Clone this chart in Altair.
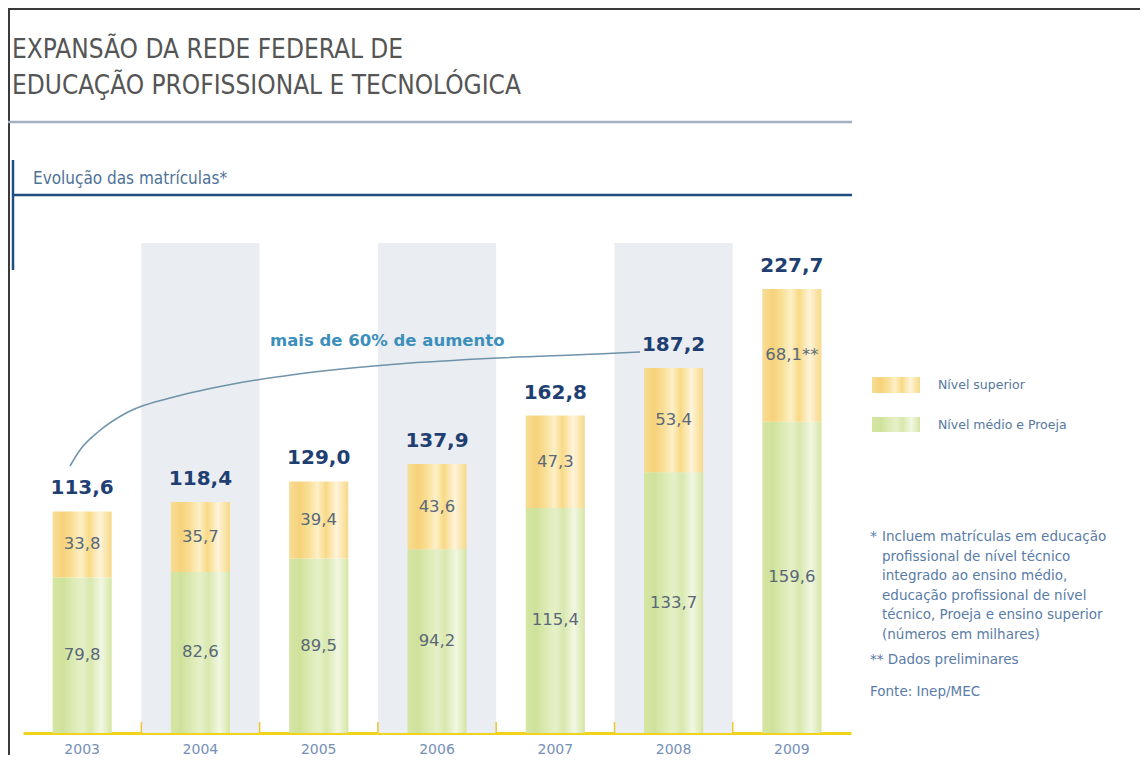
import altair as alt
import pandas as pd

# ---------------- data ----------------
years = ["2003", "2004", "2005", "2006", "2007", "2008", "2009"]
medio = [79.8, 82.6, 89.5, 94.2, 115.4, 133.7, 159.6]        # Nível médio e Proeja
superior = [33.8, 35.7, 39.4, 43.6, 47.3, 53.4, 68.1]        # Nível superior
totals = [113.6, 118.4, 129.0, 137.9, 162.8, 187.2, 227.7]
sup_marks = ["", "", "", "", "", "", "**"]
shaded_years = ["2004", "2006", "2008"]

title_lines = ["EXPANSÃO DA REDE FEDERAL DE", "EDUCAÇÃO PROFISSIONAL E TECNOLÓGICA"]
subtitle = "Evolução das matrículas*"
annotation = "mais de 60% de aumento"
legend_labels = ["Nível superior", "Nível médio e Proeja"]
note_lines = [
    "Incluem matrículas em educação",
    "profissional  de  nível  técnico",
    "integrado  ao  ensino  médio,",
    "educação  profissional  de  nível",
    "técnico, Proeja e ensino superior",
    "(números em milhares)",
]
note2 = "** Dados preliminares"
source = "Fonte: Inep/MEC"


def br(v):
    return f"{v:.1f}".replace(".", ",")


df = pd.DataFrame({
    "year": years,
    "medio": medio,
    "superior": superior,
    "total": totals,
    "lbl_medio": [br(v) for v in medio],
    "lbl_sup": [br(v) + m for v, m in zip(superior, sup_marks)],
    "lbl_total": [br(v) for v in totals],
})
df_shade = pd.DataFrame({"year": shaded_years})
one = pd.DataFrame({"k": [0]})

# ---------------- style ----------------
W, H = 1132, 725
NUM_FONT = "DejaVu Sans"
NARROW = "Liberation Sans Narrow, DejaVu Sans Condensed, Arial Narrow, sans-serif"
NOTE_COLOR = "#5a7ca8"

x_scale = alt.Scale(domain=years, range=[15, 843], paddingInner=0.5, paddingOuter=0.25)
x_axis = alt.Axis(
    title=None, ticks=False, grid=False, labelAngle=0,
    domainColor="#f2d31b", domainWidth=3,
    labelColor="#7590b6", labelFont=NUM_FONT, labelFontSize=14, labelPadding=9,
)
X = alt.X("year:O", scale=x_scale, axis=x_axis)
y_scale = alt.Scale(domain=[0, H / 1.95], nice=False, zero=True)


def Y(field):
    return alt.Y(field, type="quantitative", scale=y_scale, axis=None)


yellow = alt.Gradient(
    gradient="linear", x1=0, x2=1, y1=0, y2=0,
    stops=[
        alt.GradientStop(offset=0.0, color="#f7dd95"),
        alt.GradientStop(offset=0.18, color="#f6d27a"),
        alt.GradientStop(offset=0.33, color="#f9df95"),
        alt.GradientStop(offset=0.48, color="#fdf0c8"),
        alt.GradientStop(offset=0.62, color="#f8d985"),
        alt.GradientStop(offset=0.8, color="#fff4da"),
        alt.GradientStop(offset=0.93, color="#f9e2a2"),
        alt.GradientStop(offset=1.0, color="#f6d98c"),
    ],
)
green = alt.Gradient(
    gradient="linear", x1=0, x2=1, y1=0, y2=0,
    stops=[
        alt.GradientStop(offset=0.0, color="#d5e6a4"),
        alt.GradientStop(offset=0.18, color="#cfe29b"),
        alt.GradientStop(offset=0.35, color="#dcebb4"),
        alt.GradientStop(offset=0.5, color="#e6f0c8"),
        alt.GradientStop(offset=0.64, color="#d8e8ae"),
        alt.GradientStop(offset=0.82, color="#f1f7e2"),
        alt.GradientStop(offset=0.94, color="#dfecbb"),
        alt.GradientStop(offset=1.0, color="#d3e4a2"),
    ],
)

base = alt.Chart(df)

# ---------------- layers ----------------
shade = alt.Chart(df_shade).mark_bar(
    width=alt.RelativeBandSize(2.0), color="#eaedf1"
).encode(x=X, y=alt.value(235), y2=alt.value(H))

bars_medio = base.mark_bar(fill=green).encode(x=X, y=Y("medio"), y2=alt.datum(0))
bars_sup = base.mark_bar(fill=yellow).encode(x=X, y=Y("medio"), y2=alt.Y2("total"))

ticks = base.transform_filter(alt.datum.year != years[0]).mark_rule(
    color="#efc530", strokeWidth=1.5, xOffset=-59.1
).encode(x=X, y=alt.value(H - 11), y2=alt.value(H))

lbl_medio = base.transform_calculate(mid="datum.medio / 2").mark_text(
    font=NUM_FONT, fontSize=16.5, color="#5a6877", baseline="middle"
).encode(x=X, y=Y("mid"), text="lbl_medio:N")

lbl_sup = base.transform_calculate(mid="(datum.medio + datum.total) / 2").mark_text(
    font=NUM_FONT, fontSize=16.5, color="#5a6877", baseline="middle"
).encode(x=X, y=Y("mid"), text="lbl_sup:N")

lbl_total = base.mark_text(
    font=NUM_FONT, fontSize=20, fontWeight="bold", color="#1f3f72",
    baseline="alphabetic", dy=-17
).encode(x=X, y=Y("total"), text="lbl_total:N")

# annotation curve (pixel path of the drawn arrow line)
curve_px = [62, 72, 90, 120, 170, 220, 290, 390, 490, 590, 632]
curve_py = [458, 442, 424, 404, 388, 377, 366, 356, 350, 346, 344]
curve = alt.Chart(pd.DataFrame({"px": curve_px, "py": curve_py})).mark_line(
    color="#6f93aa", strokeWidth=1.5, interpolate="monotone"
).encode(
    x=alt.X("px:Q", scale=None, axis=None),
    y=alt.Y("py:Q", scale=None, axis=None),
)
ann = alt.Chart(one).mark_text(
    text=annotation, font=NUM_FONT, fontSize=16.5, fontWeight="bold",
    color="#3c8fbb", align="left", baseline="alphabetic"
).encode(x=alt.value(262), y=alt.value(338))

# frame, title, rules
frame_top = alt.Chart(one).mark_rule(color="#3a3a3a", strokeWidth=2).encode(
    x=alt.value(0), x2=alt.value(W), y=alt.value(1))
frame_left = alt.Chart(one).mark_rule(color="#3a3a3a", strokeWidth=2).encode(
    x=alt.value(1), y=alt.value(0), y2=alt.value(H + 40))

title1 = alt.Chart(one).mark_text(
    text=title_lines[0], font=NARROW, fontSize=26, color="#555555",
    align="left", baseline="alphabetic"
).encode(x=alt.value(4), y=alt.value(50))
title2 = alt.Chart(one).mark_text(
    text=title_lines[1], font=NARROW, fontSize=26, color="#555555",
    align="left", baseline="alphabetic"
).encode(x=alt.value(4), y=alt.value(86))
title_rule = alt.Chart(one).mark_rule(color="#a3b1bf", strokeWidth=2.5).encode(
    x=alt.value(0), x2=alt.value(844), y=alt.value(114))

sub = alt.Chart(one).mark_text(
    text=subtitle, font=NARROW, fontSize=17, color="#4f7297",
    align="left", baseline="alphabetic"
).encode(x=alt.value(25), y=alt.value(176))
blue_h = alt.Chart(one).mark_rule(color="#1f4f80", strokeWidth=2.5).encode(
    x=alt.value(5), x2=alt.value(844), y=alt.value(187))
blue_v = alt.Chart(one).mark_rule(color="#1f4f80", strokeWidth=2.5).encode(
    x=alt.value(5), y=alt.value(152), y2=alt.value(262))

# legend
leg_sw1 = alt.Chart(one).mark_rect(fill=yellow).encode(
    x=alt.value(864), x2=alt.value(912), y=alt.value(369), y2=alt.value(385))
leg_sw2 = alt.Chart(one).mark_rect(fill=green).encode(
    x=alt.value(864), x2=alt.value(912), y=alt.value(409), y2=alt.value(424))
leg_t1 = alt.Chart(one).mark_text(
    text=legend_labels[0], font=NUM_FONT, fontSize=12.5, color="#5577a0",
    align="left", baseline="middle"
).encode(x=alt.value(930), y=alt.value(377))
leg_t2 = alt.Chart(one).mark_text(
    text=legend_labels[1], font=NUM_FONT, fontSize=12.5, color="#5577a0",
    align="left", baseline="middle"
).encode(x=alt.value(930), y=alt.value(417))

# footnotes
star = alt.Chart(one).mark_text(
    text="*", font=NUM_FONT, fontSize=14, color=NOTE_COLOR, align="left", baseline="top"
).encode(x=alt.value(862), y=alt.value(522))
notes = alt.Chart(one).mark_text(
    text=note_lines, font=NUM_FONT, fontSize=13.5, lineHeight=19.5, color=NOTE_COLOR,
    align="left", baseline="top"
).encode(x=alt.value(874), y=alt.value(522))
n2 = alt.Chart(one).mark_text(
    text=note2, font=NUM_FONT, fontSize=13.5, color=NOTE_COLOR, align="left", baseline="middle"
).encode(x=alt.value(862), y=alt.value(652))
src = alt.Chart(one).mark_text(
    text=source, font=NUM_FONT, fontSize=13.5, color=NOTE_COLOR, align="left", baseline="middle"
).encode(x=alt.value(862), y=alt.value(684))

chart = alt.layer(
    shade, bars_medio, bars_sup, ticks, lbl_medio, lbl_sup, lbl_total,
    curve, ann, frame_top, frame_left, title1, title2, title_rule,
    sub, blue_h, blue_v, leg_sw1, leg_sw2, leg_t1, leg_t2, star, notes, n2, src,
).properties(
    width=W, height=H, autosize="none",
    padding={"left": 0, "top": 0, "right": 0, "bottom": 22},
    background="white",
).configure_view(stroke=None)

chart.save("out.html", embed_options={"renderer": "svg", "actions": False})
